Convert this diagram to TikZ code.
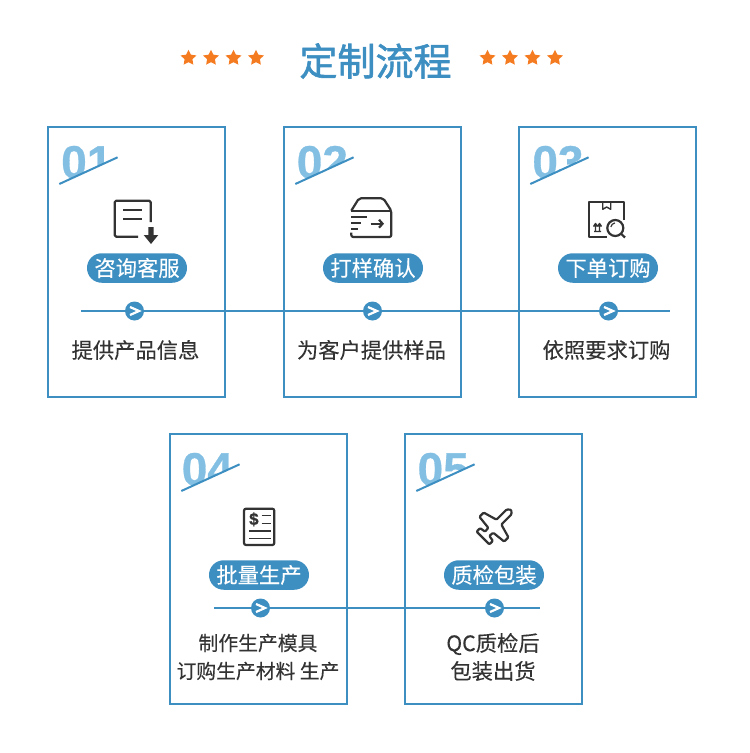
\documentclass[tikz,border=0pt]{standalone}
\usepackage{fontspec}
\setmainfont[FakeBold=0.2]{Noto Sans CJK SC}
\newfontfamily\titlefont[FakeBold=1.5]{Noto Sans CJK SC}
\newfontfamily\numfont[BoldFeatures={FakeBold=0.6}]{Liberation Sans}
\usetikzlibrary{arrows.meta,positioning,calc,shapes.geometric}
\definecolor{flowblue}{HTML}{3D8FC2}
\definecolor{numblue}{HTML}{82BFE3}
\definecolor{staror}{HTML}{F47B20}
\definecolor{inktext}{HTML}{333333}
\tikzset{
  cardbox/.style={draw=flowblue, line width=2pt, outer sep=0, minimum width=177pt, minimum height=270pt, inner sep=0, anchor=north west},
  pillnode/.style={fill=flowblue, rounded corners=14.7pt, minimum width=100pt, minimum height=29.5pt, inner sep=0, text=white, font=\fontsize{21.3}{21}\selectfont},
  stepdot/.style={circle, fill=flowblue, minimum size=19pt, inner sep=0,
    path picture={\draw[white, line width=2.2pt]
      ($(path picture bounding box.center)+(-4.5,-4)$) -- ++(9,4) -- ++(-9,4);}},
  infotext/.style={text=inktext, align=center, inner sep=0, font=\fontsize{21.3}{28}\selectfont},
  numtext/.style={text=numblue, inner sep=0, anchor=base west, font=\numfont\bfseries\fontsize{46}{46}\selectfont},
  staricon/.style={star, star points=5, star point ratio=2.0, fill=staror, minimum size=16.5pt, inner sep=0},
  flowline/.style={draw=flowblue, line width=2pt},
  iconline/.style={draw=inktext, line width=2.2pt, line join=round},
}
% number cut off by the slanted stroke
\newcommand{\cardnum}[3]{
  \coordinate (#1a) at ($(#1.north west)+(11.8,57.5)$);
  \coordinate (#1b) at ($(#1.north west)+(70.1,30.8)$);
  \begin{scope}
    \clip (#1a) -- (#1b) -- ++(0,-40) -- ++(-70,0) -- cycle;
    \node[numtext] (#1num) at ($(#1.north west)+(#2,51.5)$) {#3};
  \end{scope}
  \draw[flowline] (#1a) -- (#1b);
}

\begin{document}
\begin{tikzpicture}[x=1pt, y=-1pt]
  \useasboundingbox (0,0) rectangle (750,753);
  % title
  \node[text=flowblue, font=\titlefont\fontsize{38}{38}\selectfont, inner sep=0] (title) at (375.5,61) {定制流程};
  \foreach \sx in {188.5,211,233.5,256,487.5,510,532.5,555}
    \node[staricon] (star\sx) at (\sx,58) {};

  % upper row
  \node[cardbox] (card1) at (47.5,126.5) {};
  \node[cardbox] (card2) at (283.5,126.5) {};
  \node[cardbox] (card3) at (518.5,126.5) {};
  \cardnum{card1}{13.5}{01}
  \cardnum{card2}{13.1}{02}
  \cardnum{card3}{13.7}{03}
  \node[pillnode] (pill1) at (137,268) {咨询客服};
  \node[pillnode] (pill2) at (373,268) {打样确认};
  \node[pillnode] (pill3) at (608,268) {下单订购};
  \coordinate (startA) at (81,311);
  \coordinate (endA) at (670,311);
  \node[stepdot] (dot1) at (134.5,311) {};
  \node[stepdot] (dot2) at (372.5,311) {};
  \node[stepdot] (dot3) at (608.5,311) {};
  \draw[flowline] (startA) -- (dot1) -- (dot2) -- (dot3) -- (endA);
  \node[infotext] (info1) at (135.5,350) {提供产品信息};
  \node[infotext] (info2) at (371.5,350) {为客户提供样品};
  \node[infotext] (info3) at (606.5,350) {依照要求订购};

  % lower row
  \node[cardbox] (card4) at (169.5,433.5) {};
  \node[cardbox] (card5) at (404.5,433.5) {};
  \cardnum{card4}{12.1}{04}
  \cardnum{card5}{12.9}{05}
  \node[pillnode] (pill4) at (259,575) {批量生产};
  \node[pillnode] (pill5) at (494,575) {质检包装};
  \coordinate (startB) at (214,608);
  \coordinate (endB) at (540,608);
  \node[stepdot] (dot4) at (260.5,608) {};
  \node[stepdot] (dot5) at (494.5,608) {};
  \draw[flowline] (startB) -- (dot4) -- (dot5) -- (endB);
  \node[infotext, font=\fontsize{19.8}{28}\selectfont] (info4) at (258,657) {制作生产模具\\订购生产材料 生产};
  \node[infotext] (info5) at (493,657) {QC质检后\\包装出货};

  % icon: form with down arrow
  \draw[iconline, rounded corners=1.5pt] (150.7,222) -- (150.7,200.7) -- (114.7,200.7) -- (114.7,236.7) -- (138,236.7);
  \draw[iconline] (123.3,210) -- (142,210) (123.3,219) -- (142,219);
  \fill[inktext] (148.3,227) -- (153.7,227) -- (153.7,235) -- (158.3,235) -- (151,244) -- (143.7,235) -- (148.3,235) -- cycle;

  % icon: box with arrow
  \draw[iconline, rounded corners=2pt] (351.3,210.7) -- (359,198.3) -- (383.3,198.3) -- (391.3,210.7) -- (391.3,237) -- (351.3,237) -- (351.3,232.5);
  \draw[iconline] (351.3,210.7) -- (391.3,210.7);
  \draw[iconline] (351.3,217.3) -- (367.3,217.3) (351.3,223) -- (361,223) (351.3,228.7) -- (357.7,228.7);
  \draw[iconline, -{Straight Barb[length=3.5pt,width=8pt]}] (370.7,223.7) -- (384,223.7);

  % icon: parcel with magnifier
  \draw[iconline] (624.3,220) -- (624.3,201.7) -- (589,201.7) -- (589,236.7) -- (606.5,236.7);
  \draw[iconline, line width=1.4pt] (602.7,201.7) -- (602.7,209.3) -- (606.7,207) -- (610.7,209.3) -- (610.7,201.7);
  \draw[iconline, line width=1.4pt] (594,231.5) -- (601,231.5) (595.5,231.5) -- (595.5,224) (599.5,231.5) -- (599.5,224) (593.5,226.5) -- (595.5,223.5) -- (597.5,226.5) (597.5,226.5) -- (599.5,223.5) -- (601.5,226.5);
  \draw[iconline] (615.3,228) circle (8);
  \draw[iconline, line width=1.2pt] (610.8,227) arc[start angle=190, end angle=260, radius=5];
  \draw[iconline] (621.3,234) -- (625,237.5);

  % icon: bill
  \draw[iconline, rounded corners=2pt] (244,508.7) rectangle (274.3,545);
  \node[text=inktext, inner sep=0, font=\numfont\bfseries\fontsize{17}{17}\selectfont] (dollar) at (253.9,519.3) {\$};
  \draw[iconline, line width=1.6pt] (261.7,515.3) -- (271,515.3) (261.7,523.3) -- (271,523.3);
  \draw[iconline, line width=1.6pt] (249,530.7) -- (271,530.7) (249,538.3) -- (271,538.3);

  % icon: plane
  \begin{scope}[shift={(495,526)}, x={(0.707pt,0.707pt)}, y={(0.707pt,-0.707pt)}]
    \draw[iconline, rounded corners=1pt] (23,0) -- (20,-3.4) -- (5.5,-3.5) -- (1.5,-17.5) -- (-4.5,-17.5) -- (-6,-3.5) -- (-11,-3) -- (-12,-9) -- (-17,-9) -- (-17,0)
      -- (-17,9) -- (-12,9) -- (-11,3) -- (-6,3.5) -- (-4.5,17.5) -- (1.5,17.5) -- (5.5,3.5) -- (20,3.4) -- cycle;
  \end{scope}
\end{tikzpicture}
\end{document}
